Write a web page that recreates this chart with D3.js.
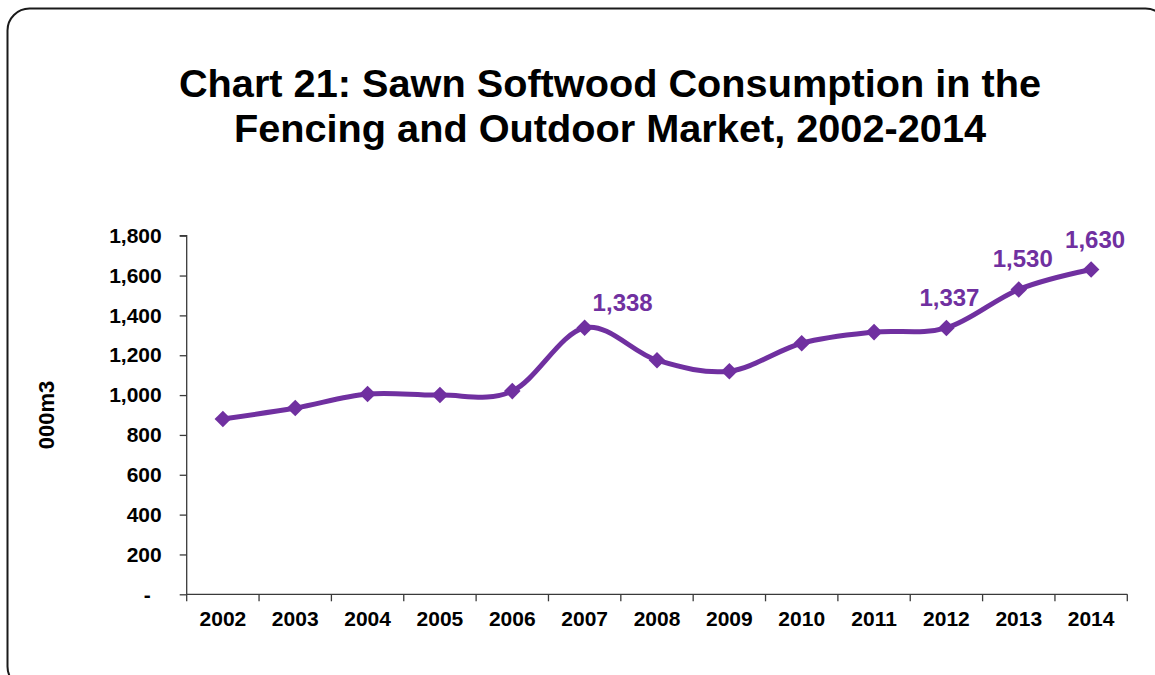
<!DOCTYPE html>
<html>
<head>
<meta charset="utf-8">
<script src="https://cdn.jsdelivr.net/npm/d3@7"></script>
<style>
  html, body { margin: 0; padding: 0; background: #ffffff; }
  svg { display: block; }
  text { font-family: "Liberation Sans", Arial, sans-serif; font-weight: bold; }
</style>
</head>
<body>
<svg id="chart" width="1155" height="675"></svg>
<script>
// Sawn softwood consumption, fencing and outdoor market (000 m3)
const years = ["2002", "2003", "2004", "2005", "2006", "2007", "2008",
               "2009", "2010", "2011", "2012", "2013", "2014"];
const consumption = [880, 935, 1005, 1000, 1020, 1338, 1175,
                     1120, 1260, 1316, 1337, 1530, 1630];
const labelledYears = ["2007", "2012", "2013", "2014"];
const yTicks = [0, 200, 400, 600, 800, 1000, 1200, 1400, 1600, 1800];
const titleLines = ["Chart 21: Sawn Softwood Consumption in the",
                    "Fencing and Outdoor Market, 2002-2014"];
const yAxisTitle = "000m3";

const purple = "#7030A0";
const axisColor = "#3a3a3a";

const svg = d3.select("#chart");

// rounded outer frame
svg.append("rect")
  .attr("x", 7.5).attr("y", 8.5)
  .attr("width", 1160).attr("height", 680)
  .attr("rx", 22).attr("ry", 22)
  .attr("fill", "#fff")
  .attr("stroke", "#1a1a1a")
  .attr("stroke-width", 2);

// title
svg.append("g").selectAll("text")
  .data(titleLines)
  .join("text")
  .attr("x", 610)
  .attr("y", (d, i) => 97 + i * 45)
  .attr("text-anchor", "middle")
  .attr("font-size", 39.7)
  .attr("fill", "#000")
  .text(d => d);

// scales
const x = d3.scaleBand().domain(years).range([186.7, 1127.3]).padding(0);
const y = d3.scaleLinear().domain([0, 1800]).range([594.3, 235.7]);

// y axis (accounting style: zero shown as a dash)
const yAxis = d3.axisLeft(y)
  .tickValues(yTicks)
  .tickSize(7)
  .tickPadding(18)
  .tickFormat(d => d === 0 ? "-" : d3.format(",")(d));

const gy = svg.append("g")
  .attr("transform", `translate(${x.range()[0]},0)`)
  .call(yAxis);
gy.select(".domain").attr("stroke", axisColor).attr("stroke-width", 1.3)
  .attr("d", `M-7,${y(1800)}H0V${y(0)}`);
gy.selectAll(".tick line").attr("stroke", axisColor).attr("stroke-width", 1.3);
gy.selectAll(".tick text")
  .attr("font-size", 21)
  .attr("fill", "#000")
  .attr("font-family", "'Liberation Sans', Arial, sans-serif")
  .attr("font-weight", "bold")
  .attr("dx", d => d === 0 ? -11 : 0);

// x axis: labels centred on bands, tick marks on band boundaries
const xAxis = d3.axisBottom(x).tickSize(0).tickPadding(17);
const gx = svg.append("g")
  .attr("transform", `translate(0,${y(0)})`)
  .call(xAxis);
gx.select(".domain").remove();
gx.selectAll(".tick text")
  .attr("font-size", 21)
  .attr("fill", "#000")
  .attr("font-family", "'Liberation Sans', Arial, sans-serif")
  .attr("font-weight", "bold");

const boundaries = years.map(d => x(d)).concat([x.range()[1]]);
gx.append("path")
  .attr("d", `M${x.range()[0]},0H${x.range()[1]}`)
  .attr("stroke", axisColor).attr("stroke-width", 1.3).attr("fill", "none");
gx.selectAll(".bound")
  .data(boundaries)
  .join("line")
  .attr("class", "bound")
  .attr("x1", d => d).attr("x2", d => d)
  .attr("y1", 0).attr("y2", 7)
  .attr("stroke", axisColor).attr("stroke-width", 1.3);

// y axis title
svg.append("text")
  .attr("transform", "translate(54,415) rotate(-90)")
  .attr("text-anchor", "middle")
  .attr("font-size", 22)
  .attr("fill", "#000")
  .text(yAxisTitle);

// series
const series = years.map((yr, i) => ({ year: yr, value: consumption[i] }));
const cx = d => x(d.year) + x.bandwidth() / 2;

const line = d3.line()
  .x(cx)
  .y(d => y(d.value))
  .curve(d3.curveCatmullRom.alpha(0));

svg.append("path")
  .datum(series)
  .attr("d", line)
  .attr("fill", "none")
  .attr("stroke", purple)
  .attr("stroke-width", 5)
  .attr("stroke-linejoin", "round")
  .attr("stroke-linecap", "round");

const diamond = d3.symbol().type(d3.symbolDiamond2).size(175);
svg.append("g").selectAll("path")
  .data(series)
  .join("path")
  .attr("transform", d => `translate(${cx(d)},${y(d.value)})`)
  .attr("d", diamond)
  .attr("fill", purple);

// value labels for selected years
const labelShift = { "2007": [38, -17], "2012": [3, -22], "2013": [4, -22], "2014": [4, -22] };
svg.append("g").selectAll("text")
  .data(series.filter(d => labelledYears.includes(d.year)))
  .join("text")
  .attr("x", d => cx(d) + labelShift[d.year][0])
  .attr("y", d => y(d.value) + labelShift[d.year][1])
  .attr("text-anchor", "middle")
  .attr("font-size", 24)
  .attr("fill", purple)
  .text(d => d3.format(",")(d.value));
</script>
</body>
</html>
